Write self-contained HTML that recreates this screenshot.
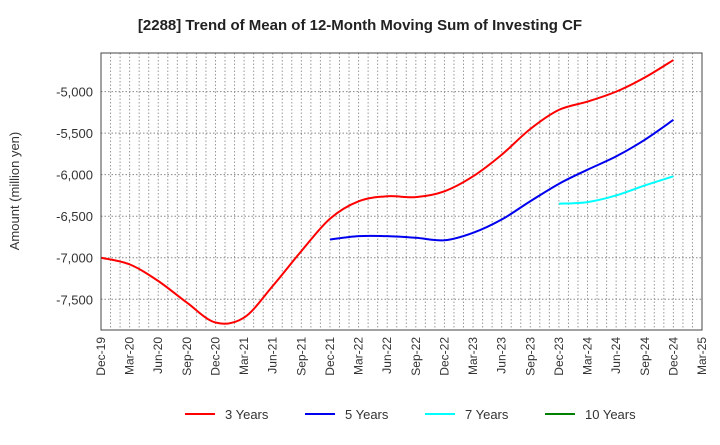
<!DOCTYPE html>
<html><head><meta charset="utf-8"><style>
body{margin:0;background:#fff;font-family:"Liberation Sans",sans-serif}
svg text{font-family:"Liberation Sans",sans-serif;fill:#333}
</style></head><body>
<svg id="c" width="720" height="440" xmlns="http://www.w3.org/2000/svg">
<text x="360" y="30" text-anchor="middle" font-size="15" font-weight="bold" style="fill:#222">[2288]  Trend of Mean of 12-Month Moving Sum of Investing CF</text>
<text transform="translate(19,191) rotate(-90)" text-anchor="middle" font-size="13">Amount (million yen)</text>
<g id="grid"></g><g id="series"></g><g id="axes"></g>
<g id="legend"></g>
</svg>
<script>
const xLabels=["Dec-19","Mar-20","Jun-20","Sep-20","Dec-20","Mar-21","Jun-21","Sep-21","Dec-21","Mar-22","Jun-22","Sep-22","Dec-22","Mar-23","Jun-23","Sep-23","Dec-23","Mar-24","Jun-24","Sep-24","Dec-24","Mar-25"];
const yTicks=[-5000,-5500,-6000,-6500,-7000,-7500];
const s3=[-7000,-7080,-7280,-7540,-7780,-7720,-7340,-6920,-6530,-6320,-6260,-6270,-6200,-6020,-5760,-5450,-5220,-5120,-5000,-4830,-4620];
const s5=[-6780,-6740,-6740,-6760,-6790,-6700,-6540,-6320,-6110,-5940,-5780,-5580,-5340];
const s7=[-6350,-6330,-6250,-6130,-6020];
const s10=[];
const L=101,R=702,T=53,B=330,yMin=-7870,yMax=-4535;
const NS="http://www.w3.org/2000/svg";
const xq=i=>L+(R-L)*i/(xLabels.length-1);
const y=v=>B-(v-yMin)/(yMax-yMin)*(B-T);
function mk(t,a,p){const e=document.createElementNS(NS,t);for(const k in a)e.setAttribute(k,a[k]);p.appendChild(e);return e;}
const grid=document.getElementById('grid'),axes=document.getElementById('axes'),ser=document.getElementById('series'),leg=document.getElementById('legend');
mk('rect',{x:L,y:T,width:R-L,height:B-T,fill:'#fff'},grid);
const months=(xLabels.length-1)*3;
for(let m=1;m<months;m++){const x=L+(R-L)*m/months;const l=mk('line',{x1:x,x2:x,y1:T,y2:B,stroke:'#999','stroke-dasharray':'1.5,2','stroke-width':1},grid);

}
yTicks.forEach(v=>{const l=mk('line',{x1:L,x2:R,y1:y(v),y2:y(v),stroke:'#888','stroke-dasharray':'1.5,2','stroke-width':1},grid);


const t=mk('text',{x:L-8,y:y(v)+5,'text-anchor':'end','font-size':13},axes);t.textContent=v.toLocaleString('en-US');

});
xLabels.forEach((s,i)=>{const t=mk('text',{transform:`translate(${xq(i)+4},337) rotate(-90)`,'text-anchor':'end','font-size':12},axes);t.textContent=s;

});
const fr=mk('rect',{x:L,y:T,width:R-L,height:B-T,fill:'none',stroke:'#444','stroke-width':1},axes);


function path(vals,start){if(vals.length<2)return'';const p=vals.map((v,i)=>[xq(start+i),y(v)]);let d=`M${p[0][0]},${p[0][1]}`;
for(let i=0;i<p.length-1;i++){const p0=p[i-1]||p[i],p1=p[i],p2=p[i+1],p3=p[i+2]||p2;
d+=` C${p1[0]+(p2[0]-p0[0])/6},${p1[1]+(p2[1]-p0[1])/6} ${p2[0]-(p3[0]-p1[0])/6},${p2[1]-(p3[1]-p1[1])/6} ${p2[0]},${p2[1]}`;}return d;}
[[s3,0,'#ff0000','line-3-years'],[s5,8,'#0000ee','line-5-years'],[s7,16,'#00ffff','line-7-years'],[s10,20,'#008000','line-10-years']].forEach(([v,st,c,n])=>{
const e=mk('path',{d:path(v,st),fill:'none',stroke:c,'stroke-width':2},ser);

});
[['3 Years','#ff0000',185],['5 Years','#0000ee',305],['7 Years','#00ffff',425],['10 Years','#008000',545]].forEach(([t,c,x])=>{
const g=mk('g',{},leg);


mk('line',{x1:x,x2:x+30,y1:414,y2:414,stroke:c,'stroke-width':2},g);
const tx=mk('text',{x:x+40,y:419,'font-size':13},g);tx.textContent=t;});
</script>
</body></html>
